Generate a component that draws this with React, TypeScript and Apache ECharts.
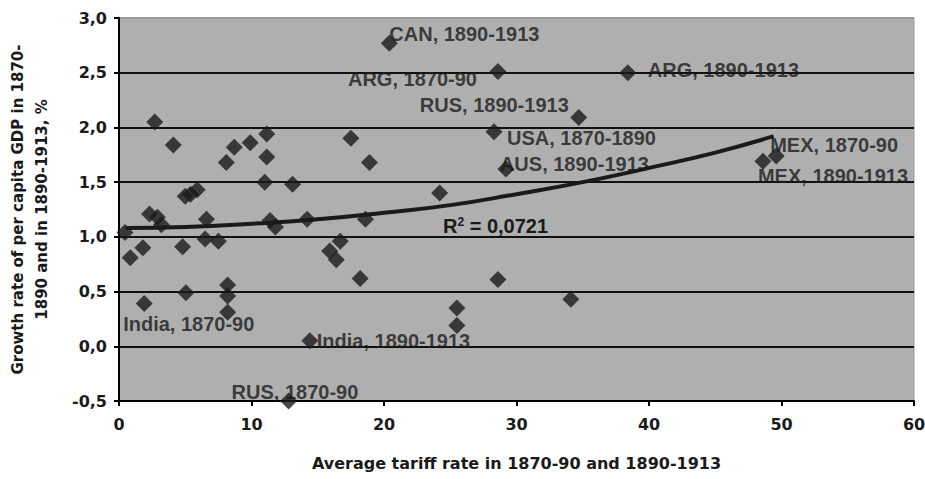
import React, { useEffect, useRef } from "react";
import * as echarts from "echarts";

// Unlabeled observations: average tariff rate (x) vs growth of GDP per capita (y)
const pointX = [0.45, 0.85, 1.8, 2.3, 2.9, 3.2, 2.7, 4.1, 4.8, 5.05, 5.0, 5.4, 5.9, 6.6, 6.5, 7.5, 8.1, 8.7, 8.2, 8.2, 8.2, 9.9, 11.15, 11.15, 11.0, 11.4, 11.8, 13.1, 14.2, 15.9, 16.7, 16.4, 17.5, 18.9, 18.6, 18.2, 24.2, 28.6, 25.5, 25.5, 34.1];
const pointY = [1.04, 0.81, 0.9, 1.21, 1.18, 1.11, 2.05, 1.84, 0.91, 0.49, 1.37, 1.39, 1.43, 1.16, 0.98, 0.96, 1.68, 1.82, 0.56, 0.46, 0.31, 1.86, 1.94, 1.73, 1.5, 1.15, 1.09, 1.48, 1.16, 0.87, 0.96, 0.79, 1.9, 1.68, 1.16, 0.62, 1.4, 0.61, 0.35, 0.19, 0.43];

// Labeled observations
const labeledNames = ["CAN, 1890-1913", "ARG, 1870-90", "ARG, 1890-1913", "RUS, 1890-1913", "USA, 1870-1890", "AUS, 1890-1913", "MEX, 1870-90", "MEX, 1890-1913", "India, 1870-90", "India, 1890-1913", "RUS, 1870-90"];
const labeledX = [20.4, 28.6, 38.4, 34.7, 28.3, 29.2, 49.6, 48.6, 1.9, 14.4, 12.8];
const labeledY = [2.77, 2.51, 2.5, 2.09, 1.96, 1.62, 1.74, 1.69, 0.39, 0.05, -0.5];

// Trend line
const trendX = [0.5, 5, 10, 15, 20, 25, 30, 35, 40, 45, 49.4];
const trendY = [1.08, 1.09, 1.12, 1.16, 1.22, 1.29, 1.39, 1.5, 1.63, 1.77, 1.92];

const rSquaredText = "0,0721";

// label placement (style only)
const labelPlacement: Record<string, { align: string; offset: number[] }> = {
  "CAN, 1890-1913": { align: "left", offset: [0, -9] },
  "ARG, 1870-90": { align: "right", offset: [-21, 7] },
  "ARG, 1890-1913": { align: "left", offset: [20, -3] },
  "RUS, 1890-1913": { align: "right", offset: [-10, -13] },
  "USA, 1870-1890": { align: "left", offset: [13, 6] },
  "AUS, 1890-1913": { align: "left", offset: [-6, -5] },
  "MEX, 1870-90": { align: "left", offset: [-6, -11] },
  "MEX, 1890-1913": { align: "left", offset: [-5, 15] },
  "India, 1870-90": { align: "left", offset: [-21, 20] },
  "India, 1890-1913": { align: "left", offset: [7, 0] },
  "RUS, 1870-90": { align: "left", offset: [-57, -9] },
};

const INK = "#1a1a1a";
const TICK_FONT = "DejaVu Sans";
const LABEL_FONT = "Liberation Sans";

export default function App() {
  const ref = useRef<HTMLDivElement>(null);
  useEffect(() => {
    document.body.style.margin = "0";
    if (!ref.current) return;
    const chart = echarts.init(ref.current, null, { renderer: "svg" });
    const plain = pointX.map((x, i) => [x, pointY[i]]);
    const labeled = labeledNames.map((n, i) => {
      const p = labelPlacement[n];
      return {
        name: n,
        value: [labeledX[i], labeledY[i]],
        label: { align: p.align, offset: p.offset },
      };
    });
    const trend = trendX.map((x, i) => [x, trendY[i]]);
    chart.setOption({
      animation: false,
      backgroundColor: "#ffffff",
      grid: {
        left: 119,
        right: 11,
        top: 18,
        bottom: 78,
        containLabel: false,
        outerBoundsMode: "none",
        show: true,
        backgroundColor: "#afafaf",
        borderColor: "#9a9a9a",
        borderWidth: 1,
      },
      xAxis: {
        type: "value",
        min: 0,
        max: 60,
        interval: 10,
        name: "Average tariff rate in 1870-90 and 1890-1913",
        nameLocation: "middle",
        nameGap: 54,
        nameTextStyle: { fontFamily: TICK_FONT, fontWeight: "bold", fontSize: 16, color: INK },
        axisLine: { show: true, onZero: false, lineStyle: { color: "#000", width: 2 } },
        axisTick: { show: true, length: 5, lineStyle: { color: "#000", width: 2 } },
        axisLabel: { margin: 15, fontFamily: TICK_FONT, fontWeight: "bold", fontSize: 16, color: INK },
        splitLine: { show: false },
      },
      yAxis: {
        type: "value",
        min: -0.5,
        max: 3,
        interval: 0.5,
        name: "Growth rate of per capita GDP in 1870-\n1890 and in 1890-1913, %",
        nameLocation: "middle",
        nameGap: 65,
        nameRotate: 90,
        nameTextStyle: { fontFamily: TICK_FONT, fontWeight: "bold", fontSize: 15, lineHeight: 24, color: INK },
        axisLine: { show: true, onZero: false, lineStyle: { color: "#000", width: 2 } },
        axisTick: { show: true, length: 5, lineStyle: { color: "#000", width: 2 } },
        axisLabel: {
          margin: 12,
          fontFamily: TICK_FONT,
          fontWeight: "bold",
          fontSize: 16,
          color: INK,
          formatter: (v: number) => v.toFixed(1).replace(".", ","),
        },
        splitLine: {
          show: true,
          lineStyle: {
            width: 2,
            color: ["#111", "#111", "#111", "#111", "#111", "#111", "#111", "#9a9a9a"],
          },
        },
      },
      series: [
        {
          type: "scatter",
          symbol: "diamond",
          symbolSize: 17,
          itemStyle: { color: INK },
          data: plain,
          z: 2,
        },
        {
          type: "line",
          smooth: true,
          showSymbol: false,
          lineStyle: { color: INK, width: 4 },
          data: trend,
          z: 3,
        },
        {
          type: "scatter",
          symbol: "diamond",
          symbolSize: 17,
          itemStyle: { color: INK },
          z: 4,
          label: {
            show: true,
            position: "inside",
            verticalAlign: "middle",
            formatter: "{b}",
            fontFamily: LABEL_FONT,
            fontWeight: "bold",
            fontSize: 20,
            color: INK,
          },
          data: labeled,
        },
      ],
      graphic: [
        {
          type: "text",
          left: 443,
          top: 216,
          z: 10,
          style: {
            text: "R{sup|2} = " + rSquaredText,
            fontFamily: LABEL_FONT,
            fontWeight: "bold",
            fontSize: 20,
            fill: INK,
            rich: {
              sup: { fontFamily: LABEL_FONT, fontWeight: "bold", fontSize: 12, verticalAlign: "top", padding: [0, 0, 8, 0], fill: INK },
            },
          },
        },
      ],
    });
    return () => chart.dispose();
  }, []);
  return <div ref={ref} style={{ width: 925, height: 479 }} />;
}
